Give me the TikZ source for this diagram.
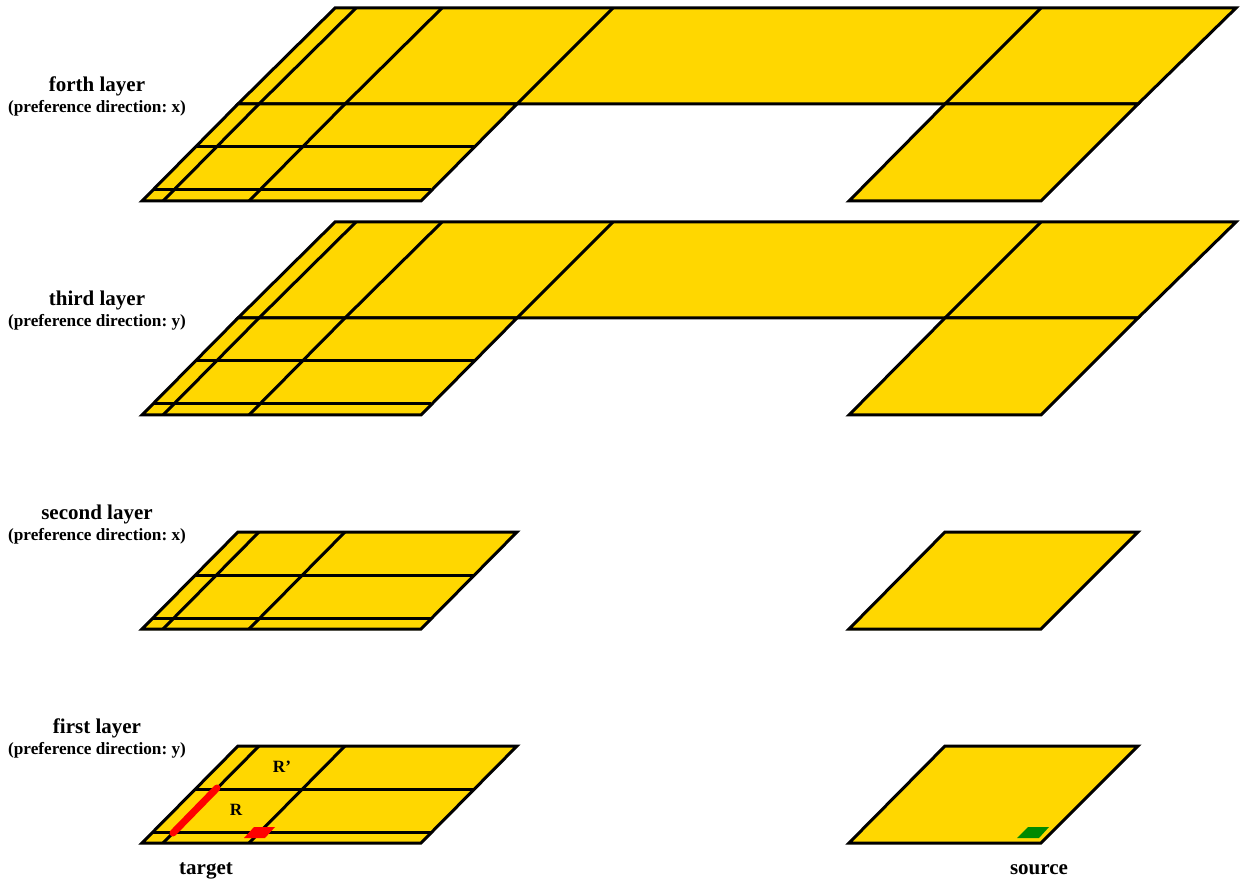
\documentclass[tikz,border=0pt]{standalone}
\usepackage{fontspec}
\setmainfont{Liberation Serif}
\usepackage{tikz}
\definecolor{metal}{HTML}{FFD700}
\definecolor{sourcegreen}{HTML}{008A00}
\frenchspacing

% one layer, in the coordinates of the first layer
\newcommand{\lowerwires}{%
    \fill[metal] (141,844) -- (421,844) -- (517,746) -- (238,746) -- cycle;
    \fill[metal] (848,844) -- (1041,844) -- (1138,746) -- (945,746) -- cycle;
    \draw[wire] (142,843) -- (421,843) -- (517,746) -- (238,746) -- cycle;
    \draw[wire] (849,843) -- (1041,843) -- (1138,746) -- (945,746) -- cycle;
    \draw[wire] (153,832) -- (431,832);
    \draw[wire] (196,789) -- (474,789);
    \draw[wire] (163,843) -- (259,746);
    \draw[wire] (249,843) -- (345,746);
}
\newcommand{\upperwires}{%
    \fill[metal] (238,746) -- (335,650) -- (1236,650) -- (1138,746) -- cycle;
    \draw[wire] (238,746) -- (335,650) -- (1236,650) -- (1138,746) -- cycle;
    \draw[wire] (259,746) -- (356,650);
    \draw[wire] (345,746) -- (442,650);
    \draw[wire] (517,746) -- (613,650);
    \draw[wire] (945,746) -- (1041,650);
}

\begin{document}
\begin{tikzpicture}[
    x=1pt, y=-1pt,
    wire/.style={draw=black, line width=3pt, line join=miter},
    title/.style={font=\bfseries\fontsize{21}{23}\selectfont, inner sep=0pt, anchor=base},
    note/.style={font=\bfseries\fontsize{17.2}{19}\selectfont, inner sep=0pt, anchor=base}
]
\useasboundingbox (0,0) rectangle (1243,882);

% first and second layer
\foreach \shift in {0,214} {
    \begin{scope}[yshift=\shift pt]
        \lowerwires
    \end{scope}
}

% third and forth layer
\foreach \shift in {428,642} {
    \begin{scope}[yshift=\shift pt]
        \upperwires
        \lowerwires
    \end{scope}
}

% names of the layers
\node[title] (forth) at (97,91.5) {forth layer};
\node[note] (forthdir) at (97,112.5) {(preference direction: x)};
\node[title] (third) at (97,305.5) {third layer};
\node[note] (thirddir) at (97,326.5) {(preference direction: y)};
\node[title] (second) at (97,519.5) {second layer};
\node[note] (seconddir) at (97,540.5) {(preference direction: x)};
\node[title] (first) at (97,733.5) {first layer};
\node[note] (firstdir) at (97,754.5) {(preference direction: y)};

% pins and the routed piece
\draw[red, line width=7pt, line cap=round] (173,833) -- (217,788);
\fill[red] (244,838) -- (254,827) -- (275,827) -- (265,838) -- cycle;
\fill[sourcegreen] (1017,838) -- (1028,827) -- (1049,827) -- (1039,838) -- cycle;

\node[note] (rprime) at (282,772) {R’};
\node[note] (r) at (236,815) {R};
\node[title] (target) at (206,874.5) {target};
\node[title] (source) at (1039,874.5) {source};

\end{tikzpicture}
\end{document}
